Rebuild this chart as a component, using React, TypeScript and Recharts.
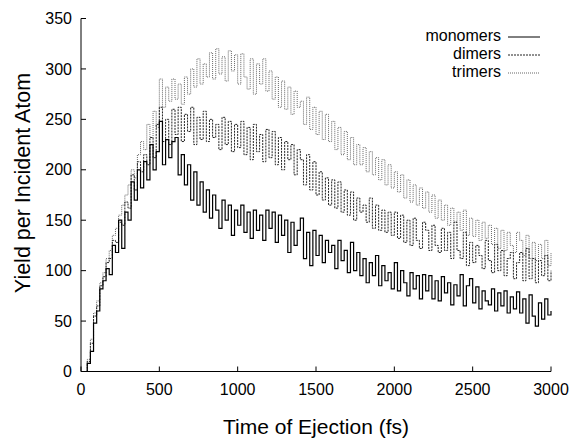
import { Line, LineChart, XAxis, YAxis, Label } from "recharts";

const BIN = 20; // fs per histogram bin

// yield values, one per 20 fs bin, 0..3000 fs
const monomers = [
    0, 0, 8, 20, 48, 60, 82, 90, 102, 96,
    125, 118, 150, 122, 158, 150, 188, 170, 200, 182,
    208, 190, 225, 200, 218, 248, 205, 230, 212, 228,
    232, 195, 215, 185, 205, 170, 198, 165, 188, 158,
    180, 152, 175, 160, 142, 170, 150, 165, 135, 160,
    145, 165, 138, 158, 132, 160, 140, 155, 130, 160,
    142, 158, 128, 155, 135, 150, 118, 148, 125, 140,
    152, 112, 138, 105, 140, 115, 135, 108, 130, 118,
    125, 102, 130, 110, 120, 98, 128, 100, 118, 95,
    112, 88, 108, 95, 115, 85, 105, 90, 98, 82,
    108, 80, 100, 88, 75, 98, 82, 95, 72, 96,
    80, 95, 72, 90, 70, 94, 78, 88, 66, 86,
    75, 96, 65, 85, 92, 68, 84, 62, 80, 70,
    66, 82, 60, 78, 65, 80, 58, 74, 62, 79,
    58, 72, 48, 76, 55, 45, 68, 52, 72, 56,
    60,
];

const dimers = [
    0, 0, 10, 28, 55, 65, 85, 94, 108, 112,
    130, 128, 148, 145, 168, 162, 195, 180, 208, 198,
    215, 205, 232, 212, 245, 262, 228, 250, 225, 260,
    235, 262, 228, 255, 238, 262, 225, 252, 230, 258,
    228, 250, 232, 245, 220, 252, 225, 248, 218, 245,
    222, 248, 215, 242, 210, 245, 218, 235, 208, 240,
    212, 238, 205, 232, 200, 228, 210, 225, 195, 220,
    210, 185, 215, 180, 208, 175, 198, 170, 192, 165,
    190, 162, 188, 158, 180, 155, 178, 150, 172, 158,
    165, 148, 172, 142, 165, 140, 160, 138, 158, 135,
    158, 132, 155, 128, 150, 125, 152, 130, 122, 148,
    140, 120, 145, 125, 118, 142, 120, 138, 112, 148,
    120, 112, 138, 105, 128, 108, 125, 115, 102, 130,
    110, 98, 126, 100, 120, 95, 112, 118, 92, 108,
    118, 90, 122, 92, 112, 88, 110, 95, 115, 90,
    100,
];

const trimers = [
    0, 0, 12, 32, 58, 70, 88, 98, 112, 120,
    135, 142, 155, 165, 175, 185, 200, 192, 215, 228,
    220, 245, 232, 258, 242, 290, 262, 282, 268, 290,
    270, 285, 265, 292, 275, 300, 282, 310, 285, 305,
    292, 316, 290, 320, 295, 312, 288, 318, 298, 314,
    285, 315, 292, 280, 310, 275, 305, 285, 310, 278,
    298, 270, 292, 262, 288, 260, 282, 255, 278, 262,
    268, 245, 272, 240, 262, 235, 258, 230, 255, 228,
    248, 220, 242, 215, 238, 210, 232, 205, 225, 205,
    222, 198, 218, 195, 212, 190, 210, 185, 205, 182,
    198, 178, 195, 172, 190, 168, 185, 165, 182, 162,
    178, 158, 175, 152, 170, 150, 165, 145, 162, 148,
    158, 140, 160, 135, 152, 134, 150, 130, 148, 132,
    145, 126, 142, 122, 140, 120, 138, 125, 118, 138,
    130, 115, 135, 112, 128, 110, 126, 112, 130, 105,
    118,
];

const xTicks = [0, 500, 1000, 1500, 2000, 2500, 3000];
const yTicks = [0, 50, 100, 150, 200, 250, 300, 350];

const data = monomers.map((m, i) => ({
    t: i * BIN,
    monomers: m,
    dimers: dimers[i],
    trimers: trimers[i],
}));

const FONT = '"Liberation Sans", Arial, sans-serif';

const legendItems = [
    { name: "monomers", color: "#000", dash: undefined },
    { name: "dimers", color: "#222", dash: "2 1" },
    { name: "trimers", color: "#666", dash: "1 1" },
];

export default function App() {
    return (
        <div style={{ position: "absolute", left: 0, top: 0, width: 570, height: 439, background: "#fff" }}>
            <LineChart
                width={570}
                height={439}
                data={data}
                margin={{ top: 18.5, right: 19, bottom: 37.5, left: 21 }}
            >
                <XAxis
                    dataKey="t"
                    type="number"
                    domain={[0, 3000]}
                    ticks={xTicks}
                    height={30}
                    tickSize={-5}
                    tickMargin={17}
                    stroke="#000"
                    tick={{ fill: "#000", fontSize: 16, fontFamily: FONT }}
                >
                    <Label
                        value="Time of Ejection (fs)"
                        position="insideBottom"
                        offset={-32}
                        style={{ fill: "#000", fontSize: 21, fontFamily: FONT }}
                    />
                </XAxis>
                <XAxis
                    xAxisId="top"
                    orientation="top"
                    dataKey="t"
                    type="number"
                    domain={[0, 3000]}
                    ticks={xTicks}
                    height={0}
                    tickSize={-5}
                    tick={false}
                    stroke="#000"
                />
                <YAxis
                    type="number"
                    domain={[0, 350]}
                    ticks={yTicks}
                    width={60}
                    tickSize={-5}
                    tickMargin={14}
                    stroke="#000"
                    tick={{ fill: "#000", fontSize: 16, fontFamily: FONT }}
                />
                <YAxis
                    yAxisId="right"
                    orientation="right"
                    type="number"
                    domain={[0, 350]}
                    ticks={yTicks}
                    width={0}
                    tickSize={-5}
                    tick={false}
                    stroke="#000"
                />
                <Line type="stepAfter" dataKey="trimers" stroke="#666" strokeWidth={1} strokeDasharray="1 1" dot={false} isAnimationActive={false} />
                <Line type="stepAfter" dataKey="dimers" stroke="#222" strokeWidth={1} strokeDasharray="2 1" dot={false} isAnimationActive={false} />
                <Line type="stepAfter" dataKey="monomers" stroke="#000" strokeWidth={1.2} dot={false} isAnimationActive={false} />
            </LineChart>
            <svg style={{ position: "absolute", left: 0, top: 0 }} width={570} height={439} pointerEvents="none">
                <text
                    transform="translate(24, 183) rotate(-90)"
                    textAnchor="middle"
                    dominantBaseline="middle"
                    fontSize={21.5}
                    fontFamily={FONT}
                    fill="#000"
                >
                    Yield per Incident Atom
                </text>
                {legendItems.map((it, i) => {
                    const y = 37 + i * 18;
                    return (
                        <g key={it.name}>
                            <text x={501} y={y} textAnchor="end" dominantBaseline="middle" fontSize={16} fontFamily={FONT} fill="#000">
                                {it.name}
                            </text>
                            <line x1={508} x2={540} y1={y} y2={y} stroke={it.color} strokeWidth={1} strokeDasharray={it.dash} />
                        </g>
                    );
                })}
            </svg>
        </div>
    );
}
